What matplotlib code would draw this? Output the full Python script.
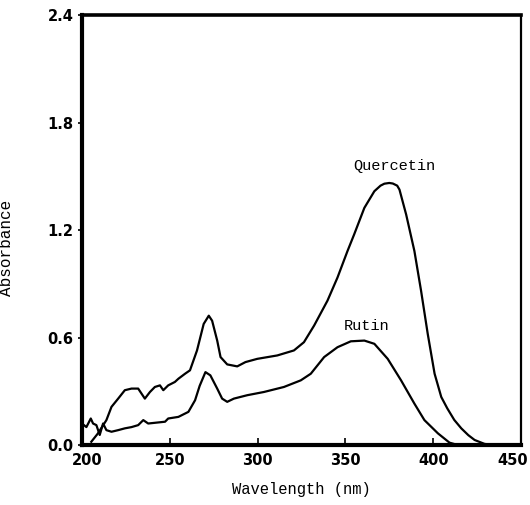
import matplotlib
matplotlib.use("Agg")
import matplotlib.pyplot as plt
import matplotlib.transforms as mtransforms

# --- Spectra (wavelength nm, absorbance) ---
quer_wl = [205.3, 209.1, 213.9, 216.8, 220.6, 224.4, 228.2, 232, 233.9, 235.8, 238.7,
           241.5, 244.4, 246.3, 249.1, 252.9, 254.9, 258.7, 261.5, 265.5, 269.3, 272.2,
           274.1, 277, 278.9, 282.7, 288.4, 293.1, 299.8, 311.2, 320.7, 326.4, 332.2,
           339.8, 345.5, 351.2, 355, 360.8, 366.5, 370, 372.2, 375, 377, 379.5, 380.8,
           384.6, 389.3, 393.1, 396.9, 400.8, 404.6, 408, 412, 416, 420, 423.6,
           429.3, 435, 450]
quer_abs = [0.018, 0.065, 0.139, 0.213, 0.259, 0.306, 0.315, 0.315, 0.287, 0.259, 0.296,
            0.324, 0.333, 0.306, 0.333, 0.352, 0.37, 0.398, 0.417, 0.528, 0.676, 0.722,
            0.694, 0.583, 0.491, 0.45, 0.439, 0.463, 0.481, 0.5, 0.528, 0.574, 0.667,
            0.806, 0.935, 1.083, 1.176, 1.324, 1.417, 1.448, 1.459, 1.463, 1.46, 1.448,
            1.426, 1.287, 1.083, 0.861, 0.62, 0.398, 0.268, 0.205, 0.14, 0.093, 0.055,
            0.028, 0.006, 0.0, 0.0]

rutin_wl = [200, 202.5, 205, 206.3, 208.2, 210.1, 212, 213.9, 216.8, 220.6, 224.4,
            228.2, 232, 234.9, 237.7, 247.3, 249.1, 254.9, 260.6, 264.4, 267, 270.3,
            273.1, 277, 279.8, 282.7, 286.5, 294.1, 303.6, 315, 324.6, 330.3, 337.9,
            345.5, 353.1, 360.8, 366.5, 374.1, 381.7, 389.3, 395, 402.7, 409.3, 414]
rutin_abs = [0.12, 0.10, 0.148, 0.12, 0.111, 0.056, 0.12, 0.083, 0.074, 0.083, 0.093,
             0.10, 0.111, 0.139, 0.12, 0.13, 0.148, 0.157, 0.185, 0.25, 0.33, 0.407,
             0.389, 0.315, 0.259, 0.241, 0.259, 0.278, 0.296, 0.324, 0.361, 0.398, 0.491,
             0.546, 0.579, 0.583, 0.565, 0.481, 0.361, 0.231, 0.139, 0.065, 0.013, 0.0]

x_ticks = [200, 250, 300, 350, 400, 450]
y_ticks = [0.0, 0.6, 1.2, 1.8, 2.4]

mono = ["Liberation Mono", "DejaVu Sans Mono"]
tickfont = ["Liberation Sans Narrow", "DejaVu Sans"]

fig = plt.figure(figsize=(5.3, 5.05), dpi=100)
ax = fig.add_axes([0.1547, 0.1188, 0.8283, 0.8512])

ax.plot(quer_wl, quer_abs, color="black", lw=1.6, solid_joinstyle="round")
ax.plot(rutin_wl, rutin_abs, color="black", lw=1.6, solid_joinstyle="round")

ax.text(377.7, 1.556, "Quercetin", family=mono, fontsize=11, ha="center", va="center")
ax.text(362.3, 0.667, "Rutin", family=mono, fontsize=11, ha="center", va="center")

ax.set_xlim(200, 450)
ax.set_ylim(0, 2.4)
ax.set_xticks(x_ticks)
ax.set_yticks(y_ticks)
ax.set_xticklabels([str(t) for t in x_ticks], family=tickfont, fontweight="bold", fontsize=10.5)
ax.set_yticklabels([f"{t:.1f}" for t in y_ticks], family=tickfont, fontweight="bold", fontsize=10.5)
ax.tick_params(axis="x", direction="in", length=5, width=1.2, pad=6)
ax.tick_params(axis="y", direction="out", length=3, width=1.2, pad=3)

# end labels sit a little inward, as in the scan
xl = ax.get_xticklabels()
xl[0].set_transform(xl[0].get_transform() + mtransforms.ScaledTranslation(5 / 100, 0, fig.dpi_scale_trans))
xl[-1].set_transform(xl[-1].get_transform() + mtransforms.ScaledTranslation(-8 / 100, 0, fig.dpi_scale_trans))

ax.spines["left"].set_linewidth(3)
ax.spines["bottom"].set_linewidth(3)
ax.spines["top"].set_linewidth(2.6)
ax.spines["right"].set_linewidth(1.6)

ax.set_xlabel("Wavelength (nm)", family=mono, fontsize=11.2, labelpad=10)
ax.set_ylabel("Absorbance", family=mono, fontsize=11.5)
ax.yaxis.set_label_coords(-0.155, 0.458)

fig.savefig("out.png", dpi=100)
